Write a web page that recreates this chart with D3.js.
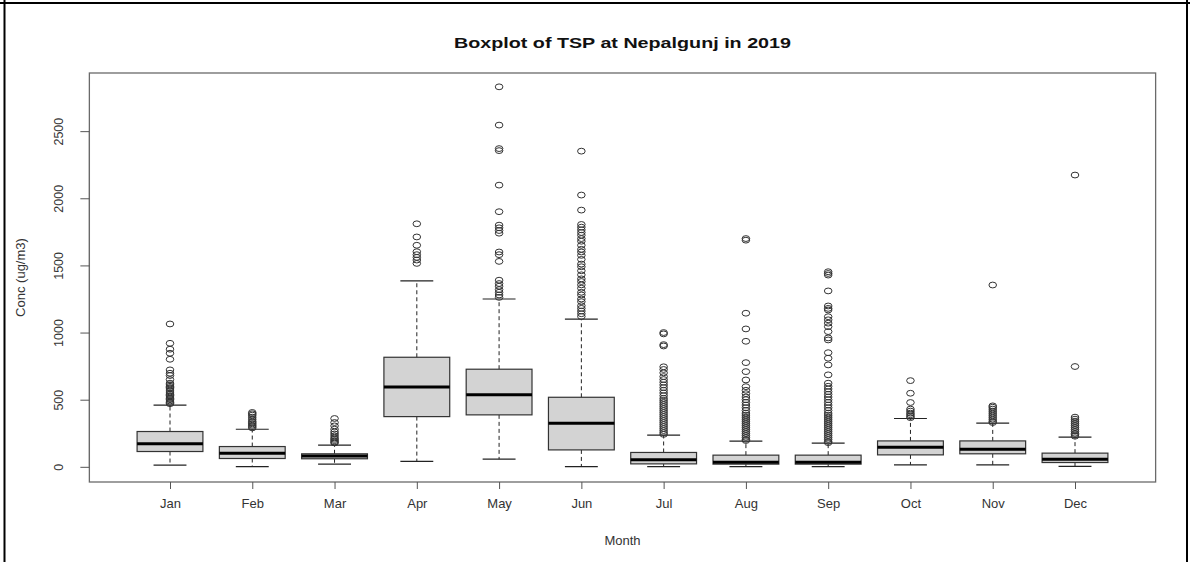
<!DOCTYPE html>
<html><head><meta charset="utf-8">
<script src="https://cdn.jsdelivr.net/npm/d3@7"></script>
<style>
html,body{margin:0;padding:0;background:#fff;}
svg{display:block;font-family:"Liberation Sans",Arial,sans-serif;}
</style></head>
<body>
<svg id="chart" width="1190" height="562"></svg>
<script>
const months = ["Jan","Feb","Mar","Apr","May","Jun","Jul","Aug","Sep","Oct","Nov","Dec"];
const whiskerLow  = [12, 2, 20, 40, 57, 2, 2, 2, 2, 15, 15, 4];
const q1          = [114, 62, 60, 374, 387, 126, 22, 20, 20, 89, 97, 32];
const medians     = [171, 102, 80, 595, 536, 325, 52, 35, 35, 146, 131, 57];
const q3          = [263, 151, 97, 816, 727, 518, 107, 87, 87, 193, 193, 102];
const whiskerHigh = [459, 280, 161, 1385, 1250, 1100, 236, 191, 176, 360, 325, 221];
const outliers = [
  [1064, 920, 876, 846, 801, 722, 697, 680, 650, 623, 610, 600, 590, 580, 565, 550, 540, 530, 520, 510, 500, 490, 480, 470],
  [405, 395, 385, 370, 355, 340, 330, 320, 310, 300, 290],
  [360, 330, 305, 280, 260, 245, 230, 215, 205, 195, 185, 178],
  [1810, 1712, 1650, 1602, 1580, 1560, 1540, 1515],
  [2830, 2545, 2370, 2355, 2098, 1900, 1800, 1780, 1760, 1740, 1600, 1580, 1530, 1390, 1365, 1345, 1320, 1300, 1280, 1262],
  [2351, 2024, 1912, 1805, 1785, 1765, 1745, 1725, 1700, 1680, 1650, 1620, 1600, 1575, 1545, 1510, 1490, 1460, 1430, 1400, 1380, 1355, 1330, 1300, 1280, 1250, 1230, 1200, 1180, 1160, 1140, 1120],
  [1000, 990, 910, 900, 745, 725, 700, 672, 650, 630, 610, 590, 570, 550, 530, 510, 495, 480, 465, 450, 435, 420, 405, 390, 375, 360, 345, 330, 315, 300, 285, 270, 255, 242],
  [1700, 1688, 1144, 1027, 935, 776, 709, 647, 597, 570, 545, 520, 500, 480, 460, 440, 420, 400, 385, 370, 355, 340, 325, 310, 295, 280, 265, 250, 235, 220, 205, 196],
  [1453, 1440, 1428, 1310, 1198, 1180, 1168, 1118, 1095, 1070, 1044, 1007, 960, 945, 850, 809, 759, 685, 623, 600, 580, 560, 540, 520, 500, 480, 460, 440, 420, 400, 385, 370, 355, 340, 325, 310, 295, 280, 265, 250, 235, 220, 205, 190, 180],
  [642, 548, 479, 430, 415, 400, 388, 376, 366],
  [1354, 454, 444, 430, 415, 400, 385, 370, 355, 340, 330],
  [2173, 747, 370, 355, 340, 325, 310, 295, 280, 265, 250, 238, 228]
];
const yTicks = [0, 500, 1000, 1500, 2000, 2500];
const titleText = "Boxplot of TSP at Nepalgunj in 2019";
const xTitle = "Month";
const yTitle = "Conc (ug/m3)";

const svg = d3.select("#chart");

// outer frame lines of the screenshot
svg.append("line").attr("x1",4.5).attr("x2",4.5).attr("y1",0).attr("y2",562).attr("stroke","#000").attr("stroke-width",2);
svg.append("line").attr("x1",0).attr("x2",1190).attr("y1",3).attr("y2",3).attr("stroke","#000").attr("stroke-width",2);
svg.append("line").attr("x1",1187).attr("x2",1187).attr("y1",0).attr("y2",562).attr("stroke","#000").attr("stroke-width",2);

const x = d3.scalePoint().domain(months).range([170, 1075]);
const step = x.step();
const boxW = 0.8 * step;
const plotL = x(months[0]) - 0.98 * step;
const plotR = x(months[months.length-1]) + 0.98 * step;

const y = d3.scaleLinear().domain([-113, 2933]).range([482, 73]);
const plotT = y(2933), plotB = y(-113);

// plot frame
svg.append("rect").attr("x",plotL).attr("y",plotT).attr("width",plotR-plotL).attr("height",plotB-plotT)
  .attr("fill","none").attr("stroke","#6a6a6a").attr("stroke-width",1.3);

const data = months.map((m,i)=>({m, lo:whiskerLow[i], q1:q1[i], med:medians[i], q3:q3[i], hi:whiskerHigh[i], out:outliers[i]}));

const g = svg.append("g");
const grp = g.selectAll("g.box").data(data).join("g").attr("class","box");

// whiskers (dashed)
grp.append("line").attr("x1",d=>x(d.m)).attr("x2",d=>x(d.m)).attr("y1",d=>y(d.q3)).attr("y2",d=>y(d.hi))
  .attr("stroke","#222").attr("stroke-width",1).attr("stroke-dasharray","4,3");
grp.append("line").attr("x1",d=>x(d.m)).attr("x2",d=>x(d.m)).attr("y1",d=>y(d.q1)).attr("y2",d=>y(d.lo))
  .attr("stroke","#222").attr("stroke-width",1).attr("stroke-dasharray","4,3");
// staples
grp.append("line").attr("x1",d=>x(d.m)-boxW/4).attr("x2",d=>x(d.m)+boxW/4).attr("y1",d=>y(d.hi)).attr("y2",d=>y(d.hi))
  .attr("stroke","#222").attr("stroke-width",1.2);
grp.append("line").attr("x1",d=>x(d.m)-boxW/4).attr("x2",d=>x(d.m)+boxW/4).attr("y1",d=>y(d.lo)).attr("y2",d=>y(d.lo))
  .attr("stroke","#222").attr("stroke-width",1.2);
// boxes
grp.append("rect").attr("x",d=>x(d.m)-boxW/2).attr("width",boxW)
  .attr("y",d=>y(d.q3)).attr("height",d=>y(d.q1)-y(d.q3))
  .attr("fill","#d3d3d3").attr("stroke","#333").attr("stroke-width",1.2);
// medians
grp.append("line").attr("x1",d=>x(d.m)-boxW/2).attr("x2",d=>x(d.m)+boxW/2).attr("y1",d=>y(d.med)).attr("y2",d=>y(d.med))
  .attr("stroke","#000").attr("stroke-width",3);
// outliers
grp.selectAll("ellipse").data(d=>d.out.map(v=>({m:d.m,v}))).join("ellipse")
  .attr("cx",d=>x(d.m)).attr("cy",d=>y(d.v)).attr("rx",3.8).attr("ry",2.9)
  .attr("fill","none").attr("stroke","#333").attr("stroke-width",1);

// x axis
const xAxis = svg.append("g").attr("transform",`translate(0,${plotB})`)
  .call(d3.axisBottom(x).tickSize(7).tickPadding(10));
xAxis.select(".domain").remove();
xAxis.selectAll("line").attr("stroke","#555");
xAxis.selectAll("text").attr("font-size",13).attr("fill","#333").attr("font-family","Liberation Sans, Arial, sans-serif");

// y axis
const yAxis = svg.append("g").attr("transform",`translate(${plotL},0)`)
  .call(d3.axisLeft(y).tickValues(yTicks).tickSize(9).tickFormat(d3.format("d")));
yAxis.select(".domain").attr("d",`M-0,${y(0)}V${y(2500)}`).attr("stroke","#6a6a6a");
yAxis.selectAll("line").attr("stroke","#555");
yAxis.selectAll("text").remove();
yAxis.selectAll(".tick").append("text")
  .attr("transform","translate(-31,0) rotate(-90)")
  .attr("text-anchor","middle").attr("dy","0.35em")
  .attr("font-size",12.5).attr("fill","#333")
  .attr("font-family","Liberation Sans, Arial, sans-serif")
  .text(d=>d);

// titles
svg.append("text").attr("x",(plotL+plotR)/2).attr("y",48).attr("text-anchor","middle")
  .attr("font-size",15.5).attr("font-weight","bold").attr("fill","#111")
  .attr("textLength",337).attr("lengthAdjust","spacingAndGlyphs")
  .text(titleText);
svg.append("text").attr("x",(plotL+plotR)/2).attr("y",545).attr("text-anchor","middle")
  .attr("font-size",13).attr("fill","#333").text(xTitle);
svg.append("text").attr("transform",`translate(20,${(plotT+plotB)/2}) rotate(-90)`).attr("text-anchor","middle")
  .attr("dy","0.35em").attr("font-size",13).attr("fill","#333").text(yTitle);
</script>
</body></html>
